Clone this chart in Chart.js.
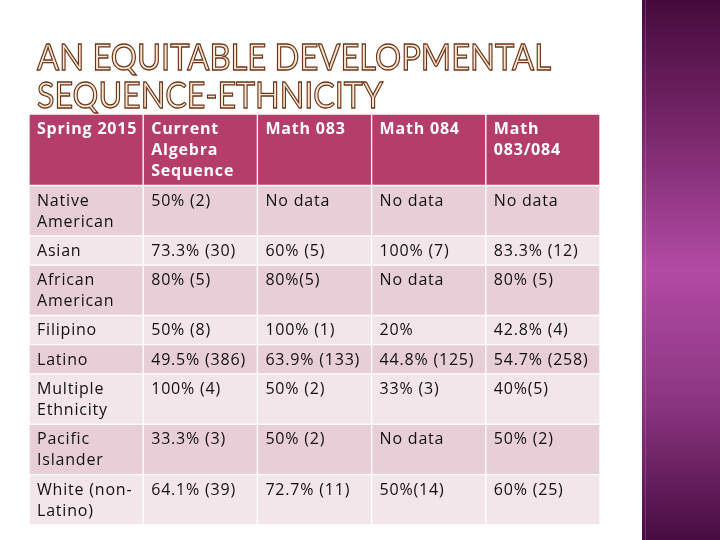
<!DOCTYPE html>
<html>
<head>
<meta charset="utf-8">
<script src="https://cdn.jsdelivr.net/npm/chart.js@4"></script>
<style>
  body { margin: 0; background: #fff; }
  canvas { display: block; }
</style>
</head>
<body>
<canvas id="myChart" width="720" height="540"></canvas>
<script>
// table contents
const titleLines = ['AN EQUITABLE DEVELOPMENTAL', 'SEQUENCE-ETHNICITY'];
const columns = ['Spring 2015', 'Current\nAlgebra\nSequence', 'Math 083', 'Math 084', 'Math\n083/084'];
const ethnicities = ['Native\nAmerican', 'Asian', 'African\nAmerican', 'Filipino', 'Latino',
    'Multiple\nEthnicity', 'Pacific\nIslander', 'White (non-\nLatino)'];
const algebraSeq = ['50% (2)', '73.3% (30)', '80% (5)', '50% (8)', '49.5% (386)', '100% (4)', '33.3% (3)', '64.1% (39)'];
const math083 = ['No data', '60% (5)', '80%(5)', '100% (1)', '63.9% (133)', '50% (2)', '50% (2)', '72.7% (11)'];
const math084 = ['No data', '100% (7)', 'No data', '20%', '44.8% (125)', '33% (3)', 'No data', '50%(14)'];
const math083084 = ['No data', '83.3% (12)', '80% (5)', '42.8% (4)', '54.7% (258)', '40%(5)', '50% (2)', '60% (25)'];

const rows = [columns];
ethnicities.forEach((e, i) => {
    rows.push([e, algebraSeq[i], math083[i], math084[i], math083084[i]]);
});

// row height in units = lines*21 + 8
const rowLines = rows.map(r => Math.max(...r.map(t => t.split('\n').length)));
const rowTops = [];
let acc = 0;
rowLines.forEach(n => {
    rowTops.push(acc);
    acc += n * 21 + 8;
});
const total = acc;

const headerColor = '#b53d69';
const oddColor = '#e8cfd7';
const evenColor = '#f2e6eb';

const datasets = rows.map((r, i) => ({
    label: i === 0 ? 'header' : ethnicities[i - 1],
    data: r.map(() => [rowTops[i], rowTops[i] + rowLines[i] * 21 + 8]),
    backgroundColor: i === 0 ? headerColor : (i % 2 === 1 ? oddColor : evenColor),
    borderColor: '#ffffff',
    borderWidth: 1,
    borderSkipped: false,
    categoryPercentage: 1,
    barPercentage: 1,
    grouped: false
}));

const backdrop = {
    id: 'backdrop',
    beforeDraw(chart) {
        const c = chart.ctx;
        c.save();
        c.fillStyle = '#ffffff';
        c.fillRect(0, 0, chart.width, chart.height);
        // right purple band
        const g = c.createLinearGradient(0, 0, 0, chart.height);
        g.addColorStop(0, '#450b3c');
        g.addColorStop(0.25, '#7a286c');
        g.addColorStop(0.5, '#b24ba4');
        g.addColorStop(0.75, '#8a3580');
        g.addColorStop(1, '#470c40');
        c.fillStyle = g;
        c.fillRect(642, 0, chart.width - 642, chart.height);
        c.fillStyle = 'rgba(255,160,240,0.25)';
        c.fillRect(645, 0, 1, chart.height);
        // title
        c.font = '37px Lato';
        c.textBaseline = 'alphabetic';
        const baselines = [70, 108];
        const widths = [514, 346];
        titleLines.forEach((t, i) => {
            const y = baselines[i];
            const w = c.measureText(t).width;
            const tg = c.createLinearGradient(0, y - 27, 0, y);
            tg.addColorStop(0, '#fde9d4');
            tg.addColorStop(0.45, '#f8c591');
            tg.addColorStop(0.65, '#f0a264');
            tg.addColorStop(1, '#f9cc9c');
            c.save();
            c.translate(37, y);
            c.scale(widths[i] / w, 1);
            c.fillStyle = tg;
            c.fillText(t, 0, 0);
            c.strokeStyle = '#6b3318';
            c.lineWidth = 1.3;
            c.strokeText(t, 0, 0);
            c.restore();
        });
        c.restore();
    }
};

const cellText = {
    id: 'cellText',
    afterDatasetsDraw(chart) {
        const c = chart.ctx;
        const xs = chart.scales.x;
        const ys = chart.scales.y;
        const colW = xs.width / columns.length;
        c.save();
        c.textBaseline = 'alphabetic';
        c.textAlign = 'left';
        c.letterSpacing = '0.8px';
        rows.forEach((r, i) => {
            c.font = i === 0 ? 'bold 16px "Open Sans"' : '16px "Open Sans"';
            c.fillStyle = i === 0 ? '#ffffff' : '#111111';
            const top = ys.getPixelForValue(rowTops[i]);
            r.forEach((t, j) => {
                const left = xs.getPixelForValue(j) - colW / 2 + 8;
                t.split('\n').forEach((line, k) => {
                    c.fillText(line, left, top + 20 + k * 21);
                });
            });
        });
        c.restore();
    }
};

const ctx = document.getElementById('myChart').getContext('2d');
new Chart(ctx, {
    type: 'bar',
    data: {
        labels: columns.map(c => c.replace(/\n/g, ' ')),
        datasets: datasets
    },
    options: {
        responsive: false,
        animation: false,
        layout: {
            padding: { left: 29, right: 120, top: 114, bottom: 15 }
        },
        scales: {
            x: { display: false },
            y: { display: false, reverse: true, min: 0, max: total }
        },
        plugins: {
            legend: { display: false },
            tooltip: { enabled: false }
        }
    },
    plugins: [backdrop, cellText]
});
</script>
</body>
</html>
